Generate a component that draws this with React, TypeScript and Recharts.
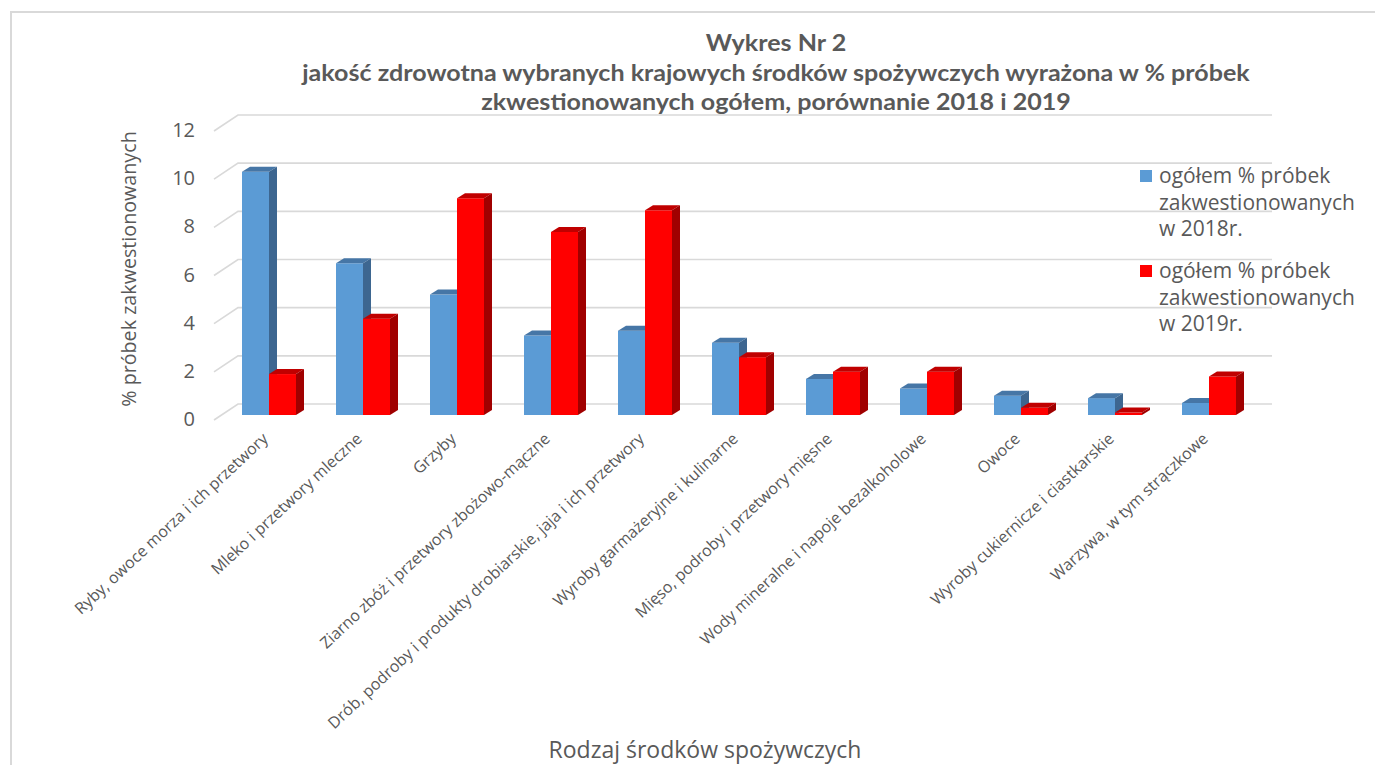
import { Bar, BarChart, CartesianGrid, XAxis, YAxis } from 'recharts'

const categories = [
  'Ryby, owoce morza i ich przetwory',
  'Mleko i przetwory mleczne',
  'Grzyby',
  'Ziarno zbóż i przetwory zbożowo-mączne',
  'Drób, podroby i produkty drobiarskie, jaja i ich przetwory',
  'Wyroby garmażeryjne i kulinarne',
  'Mięso, podroby i przetwory mięsne',
  'Wody mineralne i napoje bezalkoholowe',
  'Owoce',
  'Wyroby cukiernicze i ciastkarskie',
  'Warzywa, w tym strączkowe',
]
const values2018 = [10.1, 6.3, 5.0, 3.3, 3.5, 3.0, 1.5, 1.1, 0.8, 0.7, 0.5]
const values2019 = [1.7, 4.0, 9.0, 7.6, 8.5, 2.4, 1.8, 1.8, 0.3, 0.1, 1.6]
const yTicks = [0, 2, 4, 6, 8, 10, 12]

const titleLines = [
  'Wykres Nr 2',
  'jakość zdrowotna wybranych krajowych środków spożywczych wyrażona w % próbek',
  'zkwestionowanych ogółem, porównanie 2018 i 2019',
]
const yTitle = '% próbek zakwestionowanych'
const xTitle = 'Rodzaj środków spożywczych'
const legend2018 = ['ogółem % próbek', 'zakwestionowanych', 'w 2018r.']
const legend2019 = ['ogółem % próbek', 'zakwestionowanych', 'w 2019r.']

const series = [
  { key: 'y2018', lines: legend2018, front: '#5B9BD5', top: '#4676A6', side: '#3D6690' },
  { key: 'y2019', lines: legend2019, front: '#FF0000', top: '#C00000', side: '#A00000' },
]

const data = categories.map((name, i) => ({ name, y2018: values2018[i], y2019: values2019[i] }))

const TEXT = '#595959'
const GRID = '#D9D9D9'
const FONT = '"Open Sans", sans-serif'
// bar depth
const DX = 8
const DY = 5

function make3DBar(front: string, top: string, side: string) {
  return (props: any) => {
    const { x, y, width, height } = props
    if (width == null || height == null) return <g />
    return (
      <g>
        <rect x={x} y={y} width={width} height={height} fill={front} />
        <polygon points={`${x},${y} ${x + DX},${y - DY} ${x + width + DX},${y - DY} ${x + width},${y}`} fill={top} />
        <polygon
          points={`${x + width},${y} ${x + width + DX},${y - DY} ${x + width + DX},${y + height - DY} ${x + width},${y + height}`}
          fill={side}
        />
      </g>
    )
  }
}

function gridLine(props: any) {
  const { x1, x2, y1 } = props
  return (
    <polyline
      points={`${x1 - 8},${y1 + 5} ${x1 + 16},${y1 - 11} ${x2 + 16},${y1 - 11}`}
      fill="none"
      stroke={GRID}
      strokeWidth={1.6}
    />
  )
}

function YTick(props: any) {
  const { y, payload } = props
  return (
    <text x={195} y={y + 4} dy="0.35em" textAnchor="end" fill={TEXT} fontSize={20} fontFamily={FONT}>
      {payload.value}
    </text>
  )
}

function XTick(props: any) {
  const { x, payload } = props
  const ax = x
  const ay = 440
  return (
    <text x={ax} y={ay} textAnchor="end" transform={`rotate(-43, ${ax}, ${ay})`} fill={TEXT} fontSize={16} fontFamily={FONT}>
      {payload.value}
    </text>
  )
}

export default function App() {
  return (
    <div style={{ position: 'absolute', left: 0, top: 0, width: 1375, height: 765, background: '#fff', overflow: 'hidden' }}>
      <div style={{ position: 'absolute', left: 10, top: 11, width: 1400, height: 800, border: `2px solid ${GRID}` }} />
      {titleLines.map((t, i) => (
        <div
          key={i}
          style={{
            position: 'absolute',
            left: 276,
            width: 1000,
            top: 28 + i * 29.5,
            textAlign: 'center',
            fontFamily: 'Lato, sans-serif',
            fontWeight: 700,
            fontSize: 23,
            lineHeight: '28px',
            color: TEXT,
            whiteSpace: 'nowrap',
            transform: 'scaleX(1.09)',
          }}
        >
          {t}
        </div>
      ))}
      <div
        style={{
          position: 'absolute',
          left: 129 - 200,
          top: 269 - 14,
          width: 400,
          lineHeight: '28px',
          textAlign: 'center',
          transform: 'rotate(-90deg)',
          fontFamily: FONT,
          fontSize: 19.7,
          color: TEXT,
          whiteSpace: 'nowrap',
        }}
      >
        {yTitle}
      </div>
      <div
        style={{
          position: 'absolute',
          left: 455,
          width: 500,
          top: 734,
          textAlign: 'center',
          fontFamily: FONT,
          fontSize: 23,
          lineHeight: '30px',
          color: TEXT,
          whiteSpace: 'nowrap',
        }}
      >
        {xTitle}
      </div>
      {series.map((s, i) => (
        <div key={s.key} style={{ position: 'absolute', left: 1140, top: 162 + i * 95, fontFamily: FONT, fontSize: 21, color: TEXT }}>
          <div style={{ position: 'absolute', left: 0, top: 8, width: 12, height: 12, background: s.front }} />
          {s.lines.map((l, j) => (
            <div key={j} style={{ position: 'absolute', left: 19, top: j * 26.5, lineHeight: '27px', whiteSpace: 'nowrap' }}>
              {l}
            </div>
          ))}
        </div>
      ))}
      <div style={{ position: 'absolute', left: 0, top: 0 }}>
        <BarChart
          width={1375}
          height={765}
          data={data}
          margin={{ top: 126, right: 119, left: 162, bottom: 320 }}
          barSize={27}
          barGap={0}
        >
          <CartesianGrid vertical={false} horizontal={gridLine} />
          <XAxis dataKey="name" height={30} axisLine={false} tickLine={false} interval={0} tick={<XTick />} />
          <YAxis width={60} domain={[0, 12]} ticks={yTicks} axisLine={false} tickLine={false} tick={<YTick />} />
          {series.map((s) => (
            <Bar key={s.key} dataKey={s.key} isAnimationActive={false} shape={make3DBar(s.front, s.top, s.side)} />
          ))}
        </BarChart>
      </div>
    </div>
  )
}
